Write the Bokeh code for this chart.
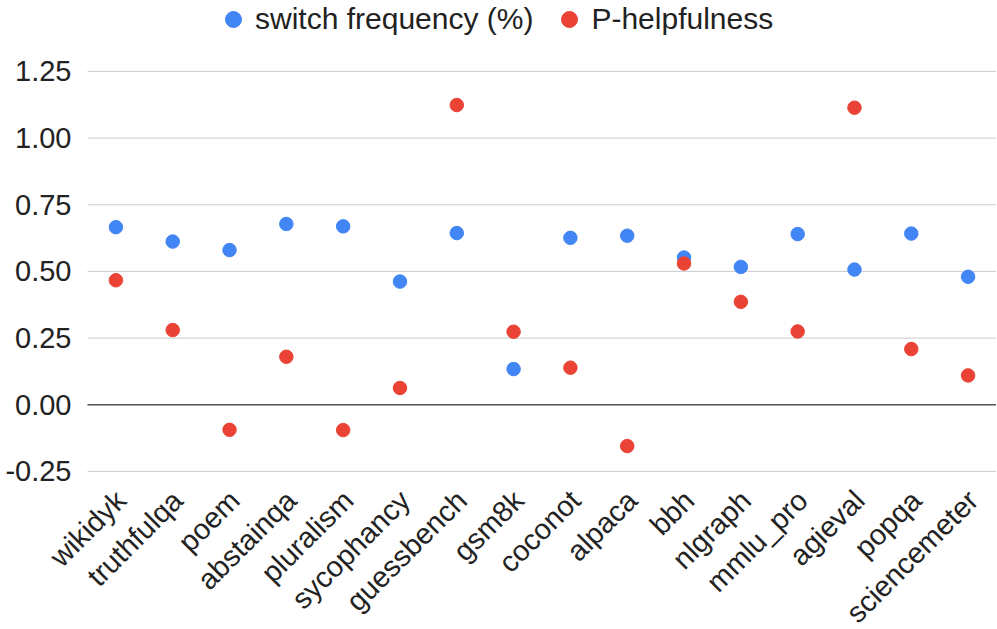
import math
from bokeh.plotting import figure
from bokeh.models import ColumnDataSource, Legend, LegendItem, Range1d, LabelSet
from bokeh.core.properties import value
from bokeh.embed import file_html
from bokeh.resources import INLINE

categories = ["wikidyk", "truthfulqa", "poem", "abstainqa", "pluralism", "sycophancy",
              "guessbench", "gsm8k", "coconot", "alpaca", "bbh", "nlgraph",
              "mmlu_pro", "agieval", "popqa", "sciencemeter"]
switch_frequency = [0.666, 0.612, 0.580, 0.678, 0.669, 0.462, 0.644, 0.134,
                    0.626, 0.634, 0.552, 0.517, 0.640, 0.507, 0.642, 0.480]
p_helpfulness = [0.467, 0.280, -0.094, 0.180, -0.095, 0.063, 1.124, 0.274,
                 0.139, -0.155, 0.530, 0.386, 0.275, 1.114, 0.209, 0.110]
y_ticks = [-0.25, 0.0, 0.25, 0.5, 0.75, 1.0, 1.25]
y_tick_labels = ["-0.25", "0.00", "0.25", "0.50", "0.75", "1.00", "1.25"]

FONT = "Liberation Sans"
TEXT = "#222222"

n = len(categories)
idx = list(range(n))
left_edge = -0.5          # left side of the first category slot
right_edge = n - 0.5      # right side of the last category slot

src = ColumnDataSource(dict(x=idx, cat=categories, sf=switch_frequency, ph=p_helpfulness,
                            base=[y_ticks[0]] * n))
tick_src = ColumnDataSource(dict(t=y_ticks, lab=y_tick_labels,
                                 x0=[left_edge] * len(y_ticks), x1=[right_edge] * len(y_ticks)))
zero_src = ColumnDataSource(dict(t=[0.0], x0=[left_edge], x1=[right_edge]))

FW = 996
slot_px = 909 / n
x_start = left_edge - 87 / slot_px

p = figure(x_range=Range1d(x_start, right_edge),
           y_range=Range1d(-0.839, 1.516),
           frame_width=FW, frame_height=628,
           min_border_left=0, min_border_right=0, min_border_top=0, min_border_bottom=0,
           output_backend="svg", toolbar_location=None)
p.outline_line_color = None
p.background_fill_color = "white"
p.border_fill_color = "white"
p.xgrid.visible = False
p.ygrid.visible = False
p.xaxis.visible = False
p.yaxis.visible = False

# horizontal grid lines across the category area, and the darker zero line
p.segment(x0="x0", x1="x1", y0="t", y1="t", source=tick_src, line_color="#cccccc", line_width=1)
p.segment(x0="x0", x1="x1", y0="t", y1="t", source=zero_src, line_color="#555555", line_width=1.6)

# value tick labels left of the category area
p.add_layout(LabelSet(x="x0", y="t", text="lab", source=tick_src, x_offset=-16,
                      text_align="right", text_baseline="middle",
                      text_font=value(FONT), text_font_size="29px", text_color=TEXT))

# slanted category labels under the lowest grid line
p.add_layout(LabelSet(x="x", y="base", text="cat", source=src, angle=math.pi / 4,
                      x_offset=5, y_offset=-24, text_align="right", text_baseline="middle",
                      text_font=value(FONT), text_font_size="29px", text_color=TEXT))

r1 = p.scatter("x", "sf", source=src, size=13.5, color="#4285F4")
r2 = p.scatter("x", "ph", source=src, size=13.5, color="#EA4335")

legend = Legend(items=[LegendItem(label="switch frequency (%)", renderers=[r1]),
                       LegendItem(label="P-helpfulness", renderers=[r2])],
                orientation="horizontal", location=(213, 589),
                glyph_width=40, glyph_height=40, label_standoff=2, spacing=16,
                padding=0, margin=0,
                label_text_font=FONT, label_text_font_size="30px", label_text_color=TEXT,
                border_line_color=None, background_fill_alpha=0)
p.add_layout(legend, "center")

open("out.html", "w").write(file_html(p, INLINE))
